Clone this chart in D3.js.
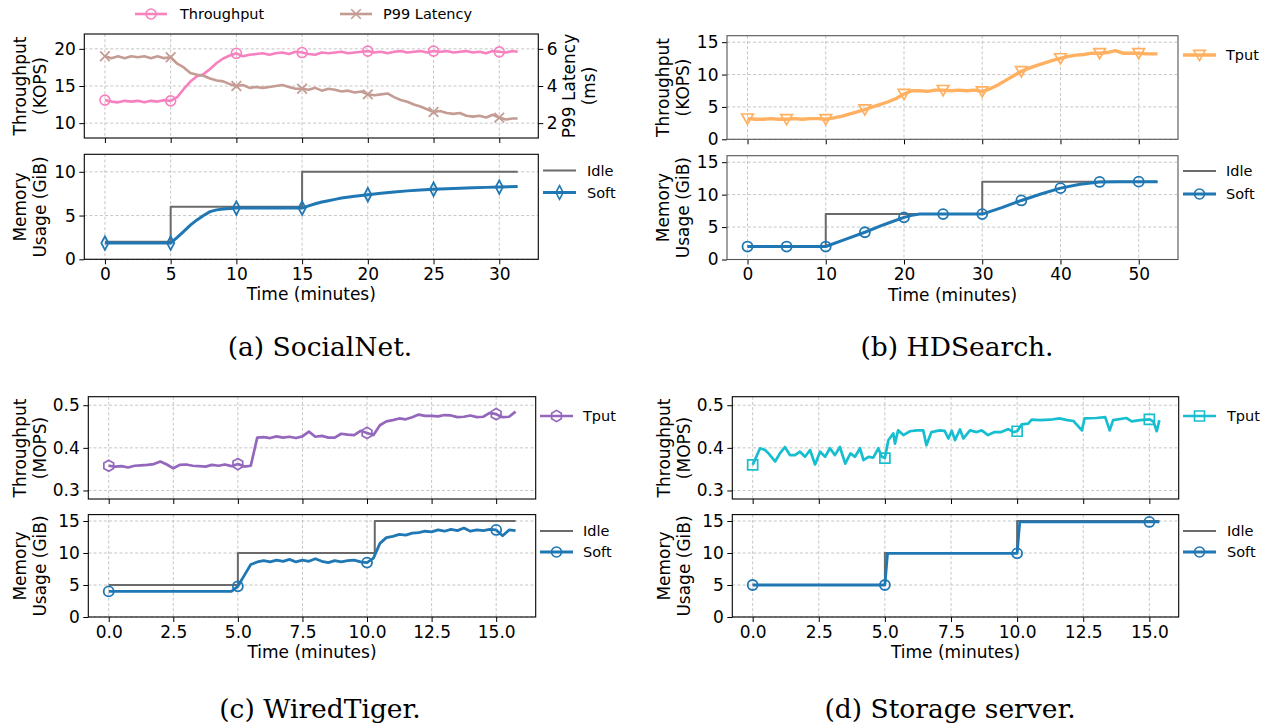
<!DOCTYPE html>
<html><head><meta charset="utf-8">
<script src="https://cdn.jsdelivr.net/npm/d3@7"></script>
<style>
body{margin:0;background:#fff;}
svg{display:block;}
text{font-family:"DejaVu Sans",sans-serif;fill:#000;}
text.cap{font-family:"DejaVu Serif","Liberation Serif",serif;}
</style></head><body>
<svg id="c" width="1271" height="727"></svg>
<script>
// ---------------- DATA ----------------
// (a) SocialNet
const aTime = [0,0.5,1,1.5,2,2.5,3,3.5,4,4.5,5,5.5,6,6.5,7,7.5,8,8.5,9,9.5,10,10.5,11,11.5,12,12.5,13,13.5,14,14.5,15,15.5,16,16.5,17,17.5,18,18.5,19,19.5,20,20.5,21,21.5,22,22.5,23,23.5,24,24.5,25,25.5,26,26.5,27,27.5,28,28.5,29,29.5,30,30.5,31,31.4];
const aThroughput = [13.1,12.9,12.8,13.0,12.9,13.0,12.8,13.0,12.9,13.1,
  13.0,13.5,14.6,15.6,16.3,16.6,17.3,18.1,18.7,19.1,
  19.4,19.0,19.2,19.3,19.4,19.2,19.4,19.5,19.3,19.6,
  19.5,19.3,19.2,19.5,19.4,19.5,19.6,19.4,19.5,19.6,
  19.7,19.5,19.6,19.4,19.6,19.7,19.5,19.6,19.7,19.5,
  19.7,19.6,19.7,19.5,19.6,19.7,19.5,19.6,19.4,19.7,
  19.6,19.5,19.7,19.6];
const aLatency = [5.6,5.5,5.6,5.5,5.6,5.55,5.6,5.5,5.6,5.5,
  5.55,5.2,5.0,4.7,4.6,4.55,4.4,4.3,4.25,4.1,
  4.0,4.05,3.9,3.95,3.9,3.95,4.0,4.05,3.95,3.85,
  3.85,3.8,3.9,3.75,3.85,3.8,3.7,3.75,3.65,3.7,
  3.55,3.5,3.55,3.6,3.4,3.25,3.15,3.0,2.9,2.75,
  2.6,2.65,2.55,2.5,2.55,2.4,2.35,2.4,2.3,2.45,
  2.3,2.2,2.25,2.25];
const aIdleTime = [0,5,15,31.4];
const aIdle = [2,6,10,10];
const aSoftTime = [0,5,5.5,6,6.5,7,7.5,8,8.5,9,10,15,15.5,16,16.5,17,17.5,18,19,20,21,22,23,24,25,26,27,28,29,30,31.4];
const aSoft = [1.85,1.85,2.5,3.2,3.9,4.5,5.0,5.45,5.65,5.75,5.85,5.85,6.1,6.35,6.55,6.7,6.85,7.0,7.2,7.38,7.55,7.7,7.82,7.92,8.0,8.07,8.13,8.18,8.22,8.25,8.32];
const aMarkTimes = [0,5,10,15,20,25,30];
const aXTicks = [0,5,10,15,20,25,30];
const aTopTicks = [10,15,20];
const aRightTicks = [2,4,6];
const aMemTicks = [0,5,10];

// (b) HDSearch
const bTime = [0,1,2,3,4,5,6,7,8,9,10,11,12,13,14,15,16,17,18,19,20,21,22,23,24,25,26,27,28,29,30,31,32,33,34,35,36,37,38,39,40,41,42,43,44,45,46,47,48,49,50,51,52,52.4];
const bTput = [3.2,3.1,3.1,3.2,3.1,3.1,3.2,3.1,3.2,3.2,
  3.1,3.3,3.55,3.9,4.25,4.6,5.0,5.4,5.8,6.3,
  7.0,7.5,7.5,7.4,7.6,7.6,7.5,7.6,7.5,7.6,
  7.4,7.8,8.4,9.1,9.8,10.5,11.0,11.4,11.8,12.2,
  12.5,12.8,13.0,13.1,13.3,13.3,13.4,13.7,13.3,13.3,
  13.3,13.2,13.2,13.2];
const bIdleTime = [0,10,30,52.4];
const bIdle = [2,7,12,12];
const bSoftTime = [0,5,10,12.5,15,17.5,20,21,22,25,30,32.5,35,37.5,40,42.5,45,47.5,50,52.4];
const bSoft = [2,2,2,3.1,4.2,5.4,6.5,6.8,7.0,7.0,7.0,8.0,9.1,10.1,11.0,11.6,11.95,12.0,12.0,12.0];
const bMarkTimes = [0,5,10,15,20,25,30,35,40,45,50];
const bXTicks = [0,10,20,30,40,50];
const bYTicks = [0,5,10,15];

// (c) WiredTiger
const cTime = [0,0.25,0.5,0.75,1,1.25,1.5,1.75,2,2.25,2.5,2.75,3,3.25,3.5,3.75,4,4.25,4.5,4.75,5,5.25,5.5,5.75,6,6.25,6.5,6.75,7,7.25,7.5,7.75,8,8.25,8.5,8.75,9,9.25,9.5,9.75,10,10.25,10.5,10.75,11,11.25,11.5,11.75,12,12.25,12.5,12.75,13,13.25,13.5,13.75,14,14.25,14.5,14.75,15,15.25,15.5,15.75];
const cTput = [0.358,0.356,0.357,0.354,0.358,0.359,0.360,0.362,
  0.368,0.361,0.352,0.360,0.361,0.358,0.357,0.356,
  0.360,0.358,0.361,0.357,0.362,0.356,0.358,0.424,
  0.425,0.423,0.427,0.424,0.426,0.423,0.427,0.438,
  0.426,0.428,0.424,0.424,0.433,0.431,0.430,0.440,
  0.435,0.430,0.453,0.462,0.465,0.469,0.467,0.472,
  0.478,0.475,0.475,0.474,0.477,0.476,0.472,0.473,
  0.476,0.472,0.473,0.482,0.479,0.472,0.473,0.485];
const cIdleTime = [0,5,10.3,15.75];
const cIdle = [5,10,15,15];
const cSoft = [4.0,4.0,4.0,4.0,4.0,4.0,4.0,4.0,
  4.0,4.0,4.0,4.0,4.0,4.0,4.0,4.0,
  4.0,4.0,4.0,4.0,4.8,6.5,8.2,8.6,
  8.8,8.6,8.9,8.7,9.0,8.6,8.9,8.7,
  9.1,8.7,8.5,8.8,8.6,8.8,8.9,8.6,
  8.5,9.2,11.5,12.4,12.6,12.9,12.8,13.1,
  13.2,13.4,13.3,13.6,13.4,13.7,13.5,13.9,
  13.4,13.6,13.5,13.7,13.6,12.7,13.6,13.5];
const cMarkTimes = [0,5,10,15];
const cXTicks = [0,2.5,5,7.5,10,12.5,15];
const cTopTicks = [0.3,0.4,0.5];
const cMemTicks = [0,5,10,15];

// (d) Storage server
const dTime = [0,0.28,0.47,0.6,0.85,1.03,1.22,1.41,1.6,1.79,1.98,2.17,2.36,2.55,2.74,2.92,3.11,3.3,3.5,3.7,3.87,4.06,4.19,4.38,4.56,4.75,4.88,5.0,
  5.13,5.32,5.38,5.5,5.7,5.95,6.2,6.45,6.57,6.76,7.07,7.26,7.4,7.53,7.65,7.84,7.97,8.22,8.47,8.66,8.9,9.15,9.4,9.67,9.86,10.0,
  10.17,10.42,10.55,10.87,11.25,11.6,11.9,12.13,12.45,12.55,13.0,13.33,13.5,13.63,14.14,14.33,14.65,15.0,15.15,15.28,15.38];
const dTput = [0.360,0.399,0.395,0.387,0.368,0.387,0.402,0.383,0.383,0.391,0.379,0.395,0.361,0.391,0.379,0.399,0.383,0.402,0.363,0.387,0.379,0.399,0.371,0.379,0.377,0.399,0.379,0.376,
  0.418,0.434,0.410,0.441,0.430,0.439,0.441,0.441,0.406,0.437,0.441,0.440,0.422,0.440,0.418,0.443,0.422,0.441,0.437,0.441,0.430,0.437,0.437,0.444,0.437,0.439,
  0.455,0.457,0.466,0.465,0.466,0.469,0.465,0.463,0.441,0.469,0.470,0.472,0.441,0.465,0.470,0.462,0.465,0.467,0.462,0.439,0.465];
const dIdleTime = [0,5,10,15.38];
const dIdle = [5,10,15,15];
const dSoftTime = [0,5,5.1,10,10.1,15,15.38];
const dSoft = [5,5,9.95,9.95,14.85,14.85,14.85];
const dMarkTimes = [0,5,10,15];

const captions = ["(a) SocialNet.","(b) HDSearch.","(c) WiredTiger.","(d) Storage server."];

// ---------------- DRAWING ----------------
const svg = d3.select('#c');
const FS = 17, LFS = 14.5;
const C = {pink:'#f781bf', brown:'#c49c94', orange:'#ffb060', purple:'#9467bd', cyan:'#17becf', blue:'#1f77b4', idle:'#6a6a6a'};

const SH = {
  circle: 'M5,0A5,5 0 1,1 -5,0A5,5 0 1,1 5,0Z',
  thin: 'M0,-6.8L3.6,0L0,6.8L-3.6,0Z',
  x: 'M-4.8,-4.8L4.8,4.8M-4.8,4.8L4.8,-4.8',
  vtri: 'M-5.8,-4.6L5.8,-4.6L0,5.6Z',
  hex: 'M0,-5.6L4.85,-2.8L4.85,2.8L0,5.6L-4.85,2.8L-4.85,-2.8Z',
  square: 'M-5,-5H5V5H-5Z'
};

function axes(o){
  const x = d3.scaleLinear().domain(o.xd).range([o.x0,o.x1]);
  const y = d3.scaleLinear().domain(o.yd).range([o.y1,o.y0]);
  const g = svg.append('g');
  const grid = g.append('g').attr('stroke','#b8b8b8').attr('stroke-width',0.8).attr('stroke-dasharray','3,2.2');
  grid.selectAll(null).data(o.xt).join('line')
    .attr('x1',d=>x(d)).attr('x2',d=>x(d)).attr('y1',o.y0).attr('y2',o.y1);
  grid.selectAll(null).data(o.yt).join('line')
    .attr('y1',d=>y(d)).attr('y2',d=>y(d)).attr('x1',o.x0).attr('x2',o.x1);
  const ax = d3.axisBottom(x).tickValues(o.xt).tickSize(5).tickPadding(3.5)
    .tickFormat(o.xlab ? (o.xfmt||d3.format('d')) : '');
  g.append('g').attr('transform',`translate(0,${o.y1})`).call(ax).call(s=>s.select('.domain').remove());
  const ay = d3.axisLeft(y).tickValues(o.yt).tickSize(5).tickPadding(3.5).tickFormat(o.yfmt||d3.format('d'));
  g.append('g').attr('transform',`translate(${o.x0},0)`).call(ay).call(s=>s.select('.domain').remove());
  g.selectAll('.tick text').attr('font-size',FS).attr('font-family','DejaVu Sans').attr('fill','#000');
  g.selectAll('.tick line').attr('stroke','#000').attr('stroke-width',1);
  const plot = svg.append('g');
  return {x,y,g,plot,o};
}
function spine(a, color){
  svg.append('rect').attr('x',a.o.x0).attr('y',a.o.y0).attr('width',a.o.x1-a.o.x0).attr('height',a.o.y1-a.o.y0)
    .attr('fill','none').attr('stroke',color||'#000').attr('stroke-width',1.1);
}
function line(a, y, xs, ys, color, w, curve){
  const data = xs.map((t,i)=>[t,ys[i]]);
  a.plot.append('path').datum(data)
    .attr('d', d3.line().x(d=>a.x(d[0])).y(d=>y(d[1])).curve(curve||d3.curveLinear))
    .attr('fill','none').attr('stroke',color).attr('stroke-width',w).attr('stroke-linejoin','round');
}
function marks(a, y, xs, ys, times, shape, color, sw){
  const data = times.map(m=>{const i = xs.indexOf(m); return [xs[i], ys[i]];});
  a.plot.selectAll(null).data(data).join('path')
    .attr('transform',d=>`translate(${a.x(d[0])},${y(d[1])})`)
    .attr('d',SH[shape]).attr('fill','none').attr('stroke',color).attr('stroke-width',sw||1.6);
}
function legendItem(x0, x1, tx, y, color, w, shape, label){
  const g = svg.append('g');
  g.append('line').attr('x1',x0).attr('x2',x1).attr('y1',y).attr('y2',y).attr('stroke',color).attr('stroke-width',w);
  if(shape) g.append('path').attr('transform',`translate(${(x0+x1)/2},${y})`).attr('d',SH[shape])
    .attr('fill','none').attr('stroke',color).attr('stroke-width',1.6);
  g.append('text').attr('x',tx).attr('y',y).attr('dy','0.36em').attr('font-size',LFS).text(label);
}
function ylabel(x1, x2, yc, l1, l2){
  svg.append('text').attr('transform',`translate(${x1},${yc}) rotate(-90)`).attr('text-anchor','middle').attr('font-size',FS).text(l1);
  svg.append('text').attr('transform',`translate(${x2},${yc}) rotate(-90)`).attr('text-anchor','middle').attr('font-size',FS).text(l2);
}
function xlabel(xc, y){
  svg.append('text').attr('x',xc).attr('y',y).attr('text-anchor','middle').attr('font-size',FS).text('Time (minutes)');
}
function caption(xc, y, t){
  svg.append('text').attr('class','cap').attr('x',xc).attr('y',y).attr('text-anchor','middle')
    .attr('font-size',26.5).text(t);
}

// ----- (a) -----
{
  const top = axes({x0:84.3,x1:538.3,y0:34,y1:138,xd:[-1.57,32.97],yd:[8,22],xt:aXTicks,yt:aTopTicks,xlab:false});
  const y2 = d3.scaleLinear().domain([1.2,6.8]).range([138,34]);
  const ar = d3.axisRight(y2).tickValues(aRightTicks).tickSize(5).tickPadding(3.5).tickFormat(d3.format('d'));
  const gr = svg.append('g').attr('transform','translate(538.3,0)').call(ar).call(s=>s.select('.domain').remove());
  gr.selectAll('.tick text').attr('font-size',FS).attr('font-family','DejaVu Sans').attr('fill','#000');
  gr.selectAll('.tick line').attr('stroke','#000');
  line(top, top.y, aTime, aThroughput, C.pink, 2.6);
  marks(top, top.y, aTime, aThroughput, aMarkTimes, 'circle', C.pink);
  line(top, y2, aTime, aLatency, C.brown, 2.6);
  marks(top, y2, aTime, aLatency, aMarkTimes, 'x', C.brown, 1.8);
  spine(top);
  const bot = axes({x0:84.3,x1:538.3,y0:154.3,y1:259.3,xd:[-1.57,32.97],yd:[0,12],xt:aXTicks,yt:aMemTicks,xlab:true});
  line(bot, bot.y, aIdleTime, aIdle, C.idle, 2, d3.curveStepAfter);
  line(bot, bot.y, aSoftTime, aSoft, C.blue, 3);
  marks(bot, bot.y, aSoftTime, aSoft, aMarkTimes, 'thin', C.blue, 1.8);
  spine(bot);
  legendItem(135,167,180,14,C.pink,2.6,'circle','Throughput');
  legendItem(340,372,383,14,C.brown,2.6,'x','P99 Latency');
  legendItem(543,576,587,170.5,C.idle,2,null,'Idle');
  legendItem(543,576,587,192.5,C.blue,3,'thin','Soft');
  ylabel(26,46,86,'Throughput','(KOPS)');
  ylabel(575,595,86,'P99 Latency','(ms)');
  ylabel(26,46,207,'Memory','Usage (GiB)');
  xlabel(311.3,300);
  caption(320,356,captions[0]);
}
// ----- (b) -----
{
  const sc = '#555';
  const top = axes({x0:727,x1:1178,y0:35.7,y1:139.3,xd:[-2.62,55.02],yd:[0,16],xt:bXTicks,yt:bYTicks,xlab:false});
  line(top, top.y, bTime, bTput, C.orange, 3.4);
  marks(top, top.y, bTime, bTput, bMarkTimes, 'vtri', C.orange, 1.7);
  spine(top, sc);
  const bot = axes({x0:727,x1:1178,y0:155.7,y1:259.5,xd:[-2.62,55.02],yd:[0,16],xt:bXTicks,yt:bYTicks,xlab:true});
  line(bot, bot.y, bIdleTime, bIdle, C.idle, 2, d3.curveStepAfter);
  line(bot, bot.y, bSoftTime, bSoft, C.blue, 3);
  marks(bot, bot.y, bSoftTime, bSoft, bMarkTimes, 'circle', C.blue, 1.8);
  spine(bot, sc);
  legendItem(1183,1216,1226,55,C.orange,3.4,'vtri','Tput');
  legendItem(1183,1216,1226,171,C.idle,2,null,'Idle');
  legendItem(1183,1216,1226,194,C.blue,3,'circle','Soft');
  ylabel(669,689,87.5,'Throughput','(KOPS)');
  ylabel(669,689,207.6,'Memory','Usage (GiB)');
  xlabel(952.5,301);
  caption(957,356,captions[1]);
}
// ----- (c) -----
{
  const f1 = d3.format('.1f');
  const top = axes({x0:88.3,x1:535.7,y0:396.7,y1:499,xd:[-0.79,16.53],yd:[0.28,0.52],xt:cXTicks,yt:cTopTicks,xlab:false,yfmt:f1});
  line(top, top.y, cTime, cTput, C.purple, 2.7);
  marks(top, top.y, cTime, cTput, cMarkTimes, 'hex', C.purple, 1.7);
  spine(top);
  const bot = axes({x0:88.3,x1:535.7,y0:514.6,y1:617,xd:[-0.79,16.53],yd:[0,16],xt:cXTicks,yt:cMemTicks,xlab:true,xfmt:f1});
  line(bot, bot.y, cIdleTime, cIdle, C.idle, 2, d3.curveStepAfter);
  line(bot, bot.y, cTime, cSoft, C.blue, 2.8);
  marks(bot, bot.y, cTime, cSoft, cMarkTimes, 'circle', C.blue, 1.8);
  spine(bot);
  legendItem(540,573,583,416,C.purple,2.7,'hex','Tput');
  legendItem(540,573,583,531,C.idle,2,null,'Idle');
  legendItem(540,573,583,552,C.blue,2.8,'circle','Soft');
  ylabel(26,46,448,'Throughput','(MOPS)');
  ylabel(26,46,566,'Memory','Usage (GiB)');
  xlabel(312,658);
  caption(320,718,captions[2]);
}
// ----- (d) -----
{
  const f1 = d3.format('.1f');
  const top = axes({x0:732.3,x1:1178.7,y0:396.7,y1:499,xd:[-0.77,16.11],yd:[0.28,0.52],xt:cXTicks,yt:cTopTicks,xlab:false,yfmt:f1});
  line(top, top.y, dTime, dTput, C.cyan, 2.7);
  marks(top, top.y, dTime, dTput, dMarkTimes, 'square', C.cyan, 1.7);
  spine(top);
  const bot = axes({x0:732.3,x1:1178.7,y0:514.6,y1:617,xd:[-0.77,16.11],yd:[0,16],xt:cXTicks,yt:cMemTicks,xlab:true,xfmt:f1});
  line(bot, bot.y, dIdleTime, dIdle, C.idle, 2, d3.curveStepAfter);
  line(bot, bot.y, dSoftTime, dSoft, C.blue, 2.8);
  marks(bot, bot.y, dSoftTime, dSoft, dMarkTimes, 'circle', C.blue, 1.8);
  spine(bot);
  legendItem(1183,1216,1227,416,C.cyan,2.7,'square','Tput');
  legendItem(1183,1216,1227,531,C.idle,2,null,'Idle');
  legendItem(1183,1216,1227,552,C.blue,2.8,'circle','Soft');
  ylabel(670,690,448,'Throughput','(MOPS)');
  ylabel(670,690,566,'Memory','Usage (GiB)');
  xlabel(955.5,658);
  caption(950,718,captions[3]);
}
</script>
</body></html>
